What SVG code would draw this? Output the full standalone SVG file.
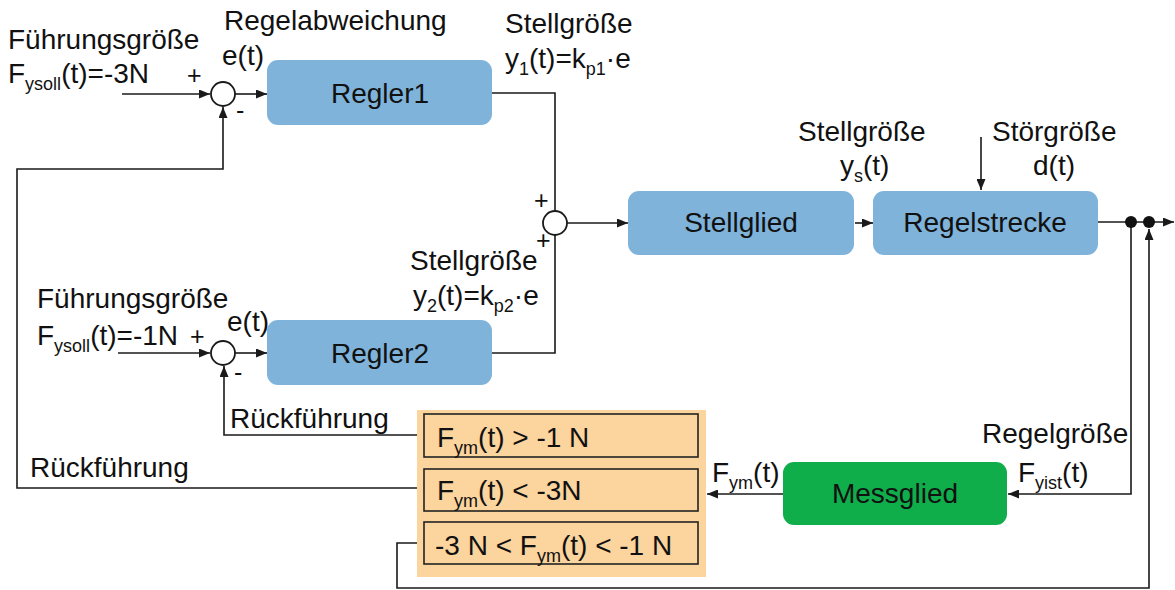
<svg xmlns="http://www.w3.org/2000/svg" width="1175" height="590" viewBox="0 0 1175 590">
<defs>
<style>
text{font-family:"Liberation Sans",Arial,sans-serif;font-size:28px;fill:#111}
.sub{font-size:18px}
.sm{font-size:25px}
.blk{fill:#7FB3DA}
.grn{fill:#10AD4B}
.c{fill:none;stroke:#1a1a1a;stroke-width:1.6}
.sum{fill:#fff;stroke:#1a1a1a;stroke-width:1.8}
.cond{fill:#FBD49E;stroke:#222;stroke-width:1.6}
.mid{text-anchor:middle}
</style>
<marker id="ah" markerUnits="userSpaceOnUse" markerWidth="11" markerHeight="9" viewBox="0 0 11 9" refX="11" refY="4.5" orient="auto">
<path d="M0,0 L11,4.5 L0,9 z" fill="#1a1a1a"/>
</marker>
</defs>
<rect width="1175" height="590" fill="#fff"/>

<g id="connectors">
<path class="c" d="M122,94 L210,94" marker-end="url(#ah)"/>
<path class="c" d="M235,94 L267,94" marker-end="url(#ah)"/>
<path class="c" d="M492,93 L555,93 L555,211"/>
<path class="c" d="M492,353 L555,353 L555,235"/>
<path class="c" d="M567,223 L628,223" marker-end="url(#ah)"/>
<path class="c" d="M855,223 L873,223" marker-end="url(#ah)"/>
<path class="c" d="M981,137 L981,190" marker-end="url(#ah)"/>
<path class="c" d="M1098,222 L1174,222" marker-end="url(#ah)"/>
<path class="c" d="M1131,222 L1131,494 L1008,494" marker-end="url(#ah)"/>
<path class="c" d="M783,494 L707,494" marker-end="url(#ah)"/>
<path class="c" d="M424,435 L224,435 L224,366" marker-end="url(#ah)"/>
<path class="c" d="M424,488 L17,488 L17,169 L223,169 L223,107" marker-end="url(#ah)"/>
<path class="c" d="M424,543 L397,543 L397,588 L1149,588 L1149,229" marker-end="url(#ah)"/>
<path class="c" d="M118,353 L210,353" marker-end="url(#ah)"/>
<path class="c" d="M235,353 L267,353" marker-end="url(#ah)"/>
<circle cx="1131" cy="222" r="6" fill="#111"/>
<circle cx="1149" cy="222" r="6" fill="#111"/>
</g>

<g id="sum1"><circle class="sum" cx="223" cy="94" r="12"/></g>
<g id="sum2"><circle class="sum" cx="555" cy="223" r="12"/></g>
<g id="sum3"><circle class="sum" cx="223" cy="353" r="12"/></g>

<g id="regler1"><rect class="blk" x="267" y="60" width="225" height="65" rx="11"/><text class="mid" x="380" y="103">Regler1</text></g>
<g id="regler2"><rect class="blk" x="267" y="320" width="225" height="65" rx="11"/><text class="mid" x="380" y="363">Regler2</text></g>
<g id="stellglied"><rect class="blk" x="628" y="191" width="226" height="64" rx="11"/><text class="mid" x="741" y="232">Stellglied</text></g>
<g id="regelstrecke"><rect class="blk" x="873" y="191" width="225" height="64" rx="11"/><text class="mid" x="985" y="232">Regelstrecke</text></g>
<g id="messglied"><rect class="grn" x="783" y="462" width="224" height="63" rx="11"/><text class="mid" x="895" y="503">Messglied</text></g>

<g id="auswahl">
<rect x="417" y="410" width="289" height="167" fill="#FBD49E"/>
<rect class="cond" x="424" y="414" width="274" height="43"/>
<rect class="cond" x="424" y="469" width="274" height="42"/>
<rect class="cond" x="424" y="522" width="274" height="42"/>
<text x="437" y="447">F<tspan class="sub" dy="7">ym</tspan><tspan dy="-7">(t) &gt; -1 N</tspan></text>
<text x="437" y="500">F<tspan class="sub" dy="7">ym</tspan><tspan dy="-7">(t) &lt; -3N</tspan></text>
<text x="435" y="555">-3 N &lt; F<tspan class="sub" dy="7">ym</tspan><tspan dy="-7">(t) &lt; -1 N</tspan></text>
</g>

<g id="labels">
<text x="8" y="49">Führungsgröße</text>
<text x="8" y="83">F<tspan class="sub" dy="7">ysoll</tspan><tspan dy="-7">(t)=-3N</tspan></text>
<text class="sm" x="187" y="84">+</text>
<text class="sm" x="236" y="119">-</text>
<text x="224" y="30">Regelabweichung</text>
<text x="222" y="65">e(t)</text>
<text x="505" y="33">Stellgröße</text>
<text x="505" y="68">y<tspan class="sub" dy="7">1</tspan><tspan dy="-7">(t)=k</tspan><tspan class="sub" dy="7">p1</tspan><tspan dy="-7">·e</tspan></text>
<text class="sm" x="534" y="209">+</text>
<text class="sm" x="536" y="249">+</text>
<text x="410" y="270">Stellgröße</text>
<text x="413" y="305">y<tspan class="sub" dy="7">2</tspan><tspan dy="-7">(t)=k</tspan><tspan class="sub" dy="7">p2</tspan><tspan dy="-7">·e</tspan></text>
<text x="37" y="308">Führungsgröße</text>
<text x="37" y="345">F<tspan class="sub" dy="7">ysoll</tspan><tspan dy="-7">(t)=-1N</tspan></text>
<text class="sm" x="190" y="345">+</text>
<text x="227" y="331">e(t)</text>
<text class="sm" x="234" y="381">-</text>
<text x="230" y="428">Rückführung</text>
<text x="30" y="477">Rückführung</text>
<text x="798" y="141">Stellgröße</text>
<text x="840" y="175">y<tspan class="sub" dy="7">s</tspan><tspan dy="-7">(t)</tspan></text>
<text x="992" y="141">Störgröße</text>
<text x="1033" y="175">d(t)</text>
<text x="982" y="443">Regelgröße</text>
<text x="1018" y="482">F<tspan class="sub" dy="7">yist</tspan><tspan dy="-7">(t)</tspan></text>
<text x="712" y="482">F<tspan class="sub" dy="7">ym</tspan><tspan dy="-7">(t)</tspan></text>
</g>
</svg>
